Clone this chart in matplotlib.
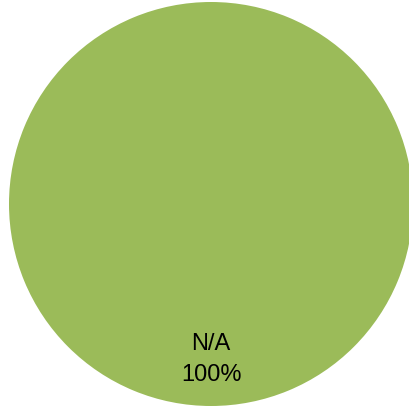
import matplotlib.pyplot as plt

# Data
categories = ["N/A"]
values = [100]
colors = ["#9BBB59"]

fig = plt.figure(figsize=(4.10, 4.11), dpi=100)
ax = fig.add_axes([9 / 410, 5 / 411, 404 / 410, 404 / 411])

labels_iter = iter(categories)
ax.pie(
    values,
    colors=colors,
    startangle=90,
    radius=1,
    autopct=lambda p: f"{next(labels_iter)}\n{p:.0f}%",
    pctdistance=0.77,
    textprops=dict(fontsize=17, family="Liberation Sans", color="black",
                   linespacing=1.55),
)
ax.set_xlim(-1, 1)
ax.set_ylim(-1, 1)
ax.set_aspect("auto")
ax.axis("off")

fig.savefig("out.png", dpi=100)
